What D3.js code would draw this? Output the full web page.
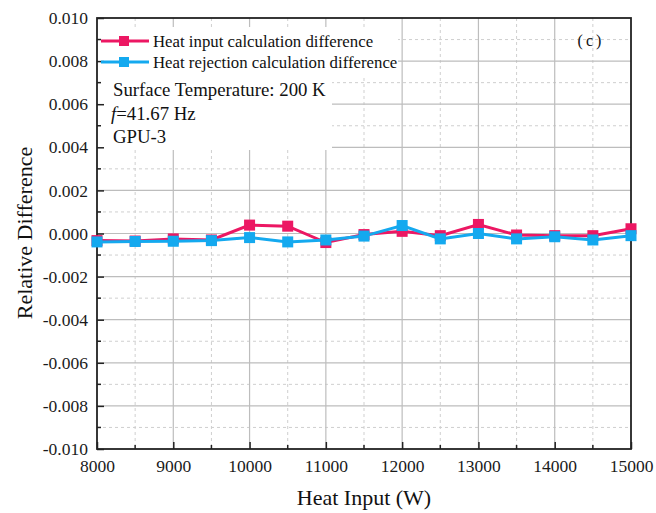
<!DOCTYPE html>
<html>
<head>
<meta charset="utf-8">
<script src="https://cdn.jsdelivr.net/npm/d3@7"></script>
<style>
  html, body { margin: 0; padding: 0; background: #fff; }
  svg { display: block; }
  svg text { font-family: "Liberation Serif", serif !important; }
</style>
</head>
<body>
<svg id="chart" width="656" height="513"></svg>
<script>
// Heat input levels (W)
const heatInput = [8000, 8500, 9000, 9500, 10000, 10500, 11000, 11500, 12000, 12500, 13000, 13500, 14000, 14500, 15000];
// Relative differences of the two energy-balance calculations
const heatInputDiff     = [-0.00033, -0.00035, -0.00025, -0.00030, 0.00039, 0.00034, -0.00042, -0.00005, 0.00010, -0.00010, 0.00042, -0.00007, -0.00010, -0.00010, 0.00022];
const heatRejectionDiff = [-0.00039, -0.00037, -0.00036, -0.00033, -0.00019, -0.00039, -0.00030, -0.00012, 0.00037, -0.00025, 0.00000, -0.00025, -0.00015, -0.00030, -0.00010];

const xTicks = [8000, 9000, 10000, 11000, 12000, 13000, 14000, 15000];
const yTicks = [-0.010, -0.008, -0.006, -0.004, -0.002, 0.000, 0.002, 0.004, 0.006, 0.008, 0.010];
const xMinor = [8500, 9500, 10500, 11500, 12500, 13500, 14500];
const yMinor = [-0.009, -0.007, -0.005, -0.003, -0.001, 0.001, 0.003, 0.005, 0.007, 0.009];

const series = [
  { name: "Heat input calculation difference", values: heatInputDiff, color: "#ec1763" },
  { name: "Heat rejection calculation difference", values: heatRejectionDiff, color: "#14a9ef" }
];
const notes = ["Surface Temperature: 200 K", "=41.67 Hz", "GPU-3"];

const svg = d3.select("#chart");
const L = 97, R = 631, T = 18, B = 449;

const x = d3.scaleLinear().domain([8000, 15000]).range([L, R]);
const y = d3.scaleLinear().domain([-0.010, 0.010]).range([B, T]);

// grid: minor dashed, major solid
const grid = svg.append("g");
grid.selectAll(".vminor").data(xMinor).join("line")
  .attr("x1", d => x(d)).attr("x2", d => x(d)).attr("y1", T).attr("y2", B)
  .attr("stroke", "#cfcfcf").attr("stroke-width", 1).attr("stroke-dasharray", "3,3");
grid.selectAll(".hminor").data(yMinor).join("line")
  .attr("x1", L).attr("x2", R).attr("y1", d => y(d)).attr("y2", d => y(d))
  .attr("stroke", "#cfcfcf").attr("stroke-width", 1).attr("stroke-dasharray", "3,3");
grid.selectAll(".vmajor").data(xTicks.slice(1, -1)).join("line")
  .attr("x1", d => x(d)).attr("x2", d => x(d)).attr("y1", T).attr("y2", B)
  .attr("stroke", "#bdbdbd").attr("stroke-width", 1.2);
grid.selectAll(".hmajor").data(yTicks.slice(1, -1)).join("line")
  .attr("x1", L).attr("x2", R).attr("y1", d => y(d)).attr("y2", d => y(d))
  .attr("stroke", "#bdbdbd").attr("stroke-width", 1.2);

// white panels behind legend and notes
svg.append("rect").attr("x", L + 1).attr("y", 27).attr("width", 300).attr("height", 48).attr("fill", "#fff");
svg.append("rect").attr("x", L + 1).attr("y", 75).attr("width", 234).attr("height", 75).attr("fill", "#fff");

// axes with inward ticks
const xAxis = d3.axisBottom(x).tickValues(xTicks).tickSize(-7).tickPadding(11).tickFormat(d3.format("d"));
const yAxis = d3.axisLeft(y).tickValues(yTicks).tickSize(-7).tickPadding(9)
  .tickFormat(d => d3.format(".3f")(d).replace("\u2212", "-"));

const gx = svg.append("g").attr("transform", `translate(0,${B})`).call(xAxis);
const gy = svg.append("g").attr("transform", `translate(${L},0)`).call(yAxis);
[gx, gy].forEach(g => {
  g.attr("font-size", 17.5);
  g.select(".domain").remove();
  g.selectAll(".tick line").attr("stroke", "#222").attr("stroke-width", 1.5);
  g.selectAll(".tick text").attr("fill", "#1a1a1a");
});

// minor ticks
svg.append("g").selectAll("line").data(xMinor).join("line")
  .attr("x1", d => x(d)).attr("x2", d => x(d)).attr("y1", B).attr("y2", B - 4)
  .attr("stroke", "#222").attr("stroke-width", 1.5);
svg.append("g").selectAll("line").data(yMinor).join("line")
  .attr("x1", L).attr("x2", L + 4).attr("y1", d => y(d)).attr("y2", d => y(d))
  .attr("stroke", "#222").attr("stroke-width", 1.5);

// frame
svg.append("rect").attr("x", L).attr("y", T).attr("width", R - L).attr("height", B - T)
  .attr("fill", "none").attr("stroke", "#222").attr("stroke-width", 1.8);

// series
const line = d3.line().x((d, i) => x(heatInput[i])).y(d => y(d));
series.forEach(s => {
  const g = svg.append("g");
  g.append("path").datum(s.values).attr("d", line)
    .attr("fill", "none").attr("stroke", s.color).attr("stroke-width", 3);
  g.selectAll("rect").data(s.values).join("rect")
    .attr("x", (d, i) => x(heatInput[i]) - 5.5).attr("y", d => y(d) - 5.5)
    .attr("width", 11).attr("height", 11).attr("fill", s.color);
});

// legend
const lg = svg.append("g");
series.forEach((s, i) => {
  const yy = 41 + i * 21;
  lg.append("line").attr("x1", 101).attr("x2", 149).attr("y1", yy).attr("y2", yy)
    .attr("stroke", s.color).attr("stroke-width", 3);
  lg.append("rect").attr("x", 119).attr("y", yy - 5).attr("width", 10).attr("height", 10).attr("fill", s.color);
  lg.append("text").attr("x", 153).attr("y", yy + 5.5).text(s.name)
    .attr("fill", "#111").attr("font-size", 16.8);
});

// notes
const nt = svg.append("g").attr("font-size", 18.8).attr("fill", "#111");
nt.append("text").attr("x", 113).attr("y", 96).text(notes[0]);
const fNote = nt.append("text").attr("x", 111).attr("y", 119.5);
fNote.append("tspan").style("font-style", "italic").text("f");
fNote.append("tspan").text(notes[1]);
nt.append("text").attr("x", 113).attr("y", 143).text(notes[2]);

// panel label
svg.append("text").attr("x", 591).attr("y", 46).attr("text-anchor", "middle").text("(c)")
  .attr("fill", "#111").attr("font-size", 16).attr("letter-spacing", "3px");

// axis titles
svg.append("text").attr("x", 364).attr("y", 505).attr("text-anchor", "middle")
  .text("Heat Input (W)").attr("fill", "#111").attr("font-size", 22);
svg.append("text").attr("transform", `translate(32,${233}) rotate(-90)`).attr("text-anchor", "middle")
  .text("Relative Difference").attr("fill", "#111").attr("font-size", 22);
</script>
</body>
</html>
